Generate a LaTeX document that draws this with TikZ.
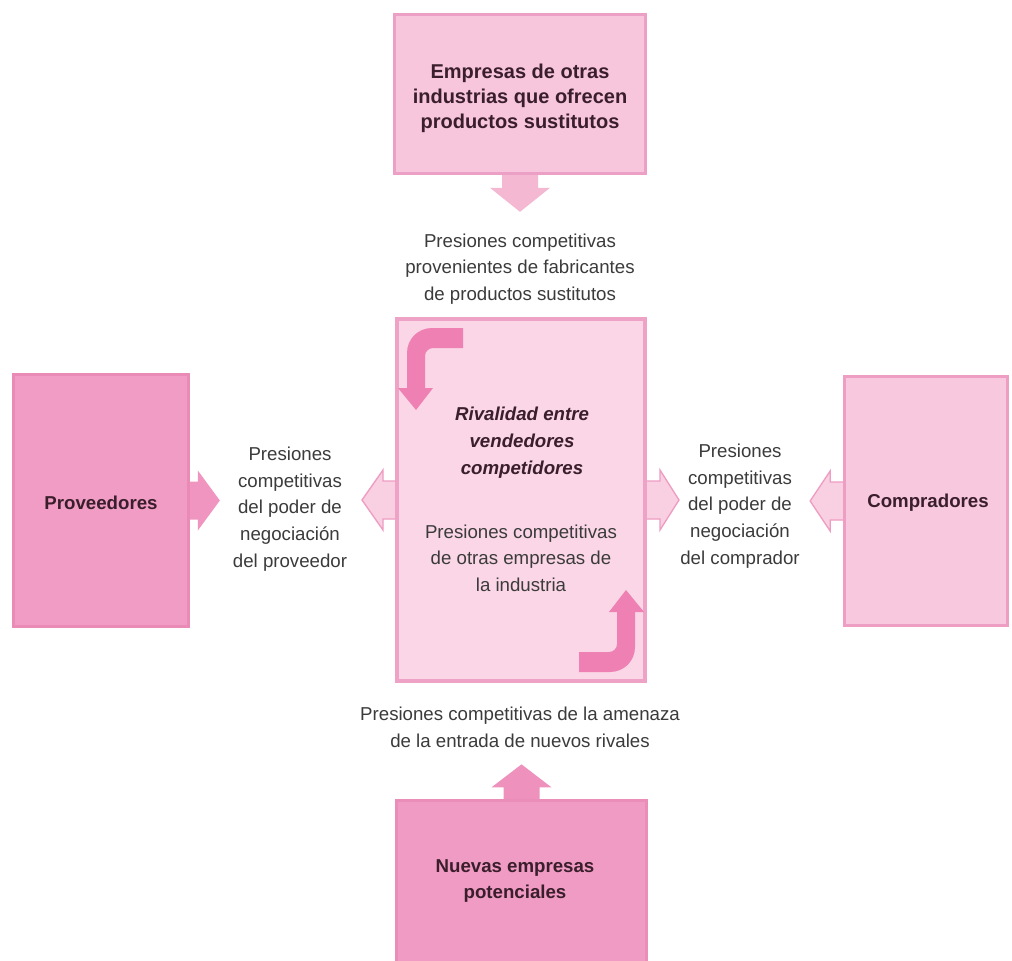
\documentclass[tikz,border=0pt]{standalone}
\usepackage{fontspec}
\setmainfont{Liberation Sans}
\usetikzlibrary{calc}
\definecolor{topfill}{HTML}{F7C6DC}
\definecolor{topdraw}{HTML}{EDA0C5}
\definecolor{midfill}{HTML}{FAD6E6}
\definecolor{middraw}{HTML}{EEA2C6}
\definecolor{provfill}{HTML}{F09CC4}
\definecolor{provdraw}{HTML}{E98AB7}
\definecolor{compfill}{HTML}{F8C8DE}
\definecolor{compdraw}{HTML}{EE9EC3}
\definecolor{botfill}{HTML}{F09BC3}
\definecolor{botdraw}{HTML}{EA8DB9}
\definecolor{curvecol}{HTML}{EE80B3}
\definecolor{toparrow}{HTML}{F5B8D3}
\definecolor{botarrow}{HTML}{EE92BD}
\definecolor{provarrow}{HTML}{EF95C0}
\definecolor{lightarrow}{HTML}{F8D0E2}
\definecolor{lightarrowdraw}{HTML}{EE9CC2}
\definecolor{regtext}{HTML}{3B3B3B}
\definecolor{boldtext}{HTML}{3A1E2C}
\pgfdeclarelayer{bg}
\pgfsetlayers{bg,main}
\tikzset{
  box/.style={rectangle, line width=2.25pt, inner sep=0pt},
  lbl/.style={align=center, text=regtext, font=\fontsize{14}{20}\selectfont, inner sep=0pt},
  boldlbl/.style={align=center, text=boldtext, font=\fontsize{14}{20}\selectfont\bfseries, inner sep=0pt},
  blockarrow/.style={line width=1pt, line join=miter},
  pics/curvedarrow/.style={code={
    \fill[curvecol] (-58,-172) -- (-89,-172)
      .. controls (-103,-172) and (-114,-161) .. (-114,-147)
      -- (-114,-112) -- (-123,-112) -- (-105,-90) -- (-88,-112) -- (-96,-112)
      -- (-96,-144) .. controls (-96,-148.4) and (-92.4,-152) .. (-88,-152)
      -- (-58,-152) -- cycle;
  }}
}
\begin{document}
\begin{tikzpicture}[x=0.75pt,y=-0.75pt]
\clip (0,0) rectangle (1012,960);
\begin{pgfonlayer}{bg}
\fill[white] (0,0) rectangle (1012,960);
\end{pgfonlayer}

% boxes
\node[box, fill=topfill, draw=topdraw, minimum width=188pt, minimum height=119pt]
      (top) at (520,94) {};
\node[box, fill=midfill, draw=middraw, line width=3pt, minimum width=186pt, minimum height=271.5pt]
      (mid) at (521,500) {};
\node[box, fill=provfill, draw=provdraw, minimum width=131pt, minimum height=189pt]
      (prov) at (101,500.5) {};
\node[box, fill=compfill, draw=compdraw, minimum width=122pt, minimum height=187pt]
      (comp) at (926,501) {};
\node[box, fill=botfill, draw=botdraw, minimum width=188pt, minimum height=130pt]
      (bot) at (521.5,887.5) {};

% block arrows (behind the boxes)
\begin{pgfonlayer}{bg}
\fill[toparrow, shift={(top.south)}]
  (-18,-3) -- (-18,13) -- (-30,13) -- (0,37) -- (30,13) -- (18,13) -- (18,-3) -- cycle;
\fill[botarrow, shift={(bot.north)}]
  (-18,3) -- (-18,-12) -- (-30,-12) -- (0,-35) -- (30,-12) -- (18,-12) -- (18,3) -- cycle;
\fill[provarrow, shift={(prov.east)}]
  (-3,-19) -- (8,-19) -- (8,-30) -- (30,0) -- (8,30) -- (8,19) -- (-3,19) -- cycle;
\filldraw[blockarrow, fill=lightarrow, draw=lightarrowdraw, shift={(mid.west)}]
  (3,-19) -- (-12,-19) -- (-12,-30) -- (-33,0) -- (-12,30) -- (-12,19) -- (3,19) -- cycle;
\filldraw[blockarrow, fill=lightarrow, draw=lightarrowdraw, shift={(mid.east)}]
  (-3,-19) -- (13,-19) -- (13,-30) -- (32,0) -- (13,30) -- (13,19) -- (-3,19) -- cycle;
\filldraw[blockarrow, fill=lightarrow, draw=lightarrowdraw, shift={(comp.west)}]
  (3,-19) -- (-13,-19) -- (-13,-30) -- (-33,0) -- (-13,30) -- (-13,19) -- (3,19) -- cycle;
\end{pgfonlayer}

% curved rivalry arrows
\pic at (mid.center) {curvedarrow};
\pic[rotate=180] at (mid.center) {curvedarrow};

% texts
\node[boldlbl, font=\fontsize{15}{18.75}\selectfont\bfseries] (toptext) at (520,98.5)
  {Empresas de otras\\industrias que ofrecen\\productos sustitutos};
\node[boldlbl] (provtext) at (101,502.5) {Proveedores};
\node[boldlbl] (comptext) at (928,503) {Compradores};
\node[lbl] (tlab) at (520,269) {Presiones competitivas\\provenientes de fabricantes\\de productos sustitutos};
\node[lbl] (llab) at (290,509) {Presiones\\competitivas\\del poder de\\negociación\\del proveedor};
\node[lbl] (rlab) at (740,506) {Presiones\\competitivas\\del poder de\\negociación\\del comprador};
\node[boldlbl, font=\fontsize{14}{20}\selectfont\bfseries\itshape] (rtitle) at (522,442.5) {Rivalidad entre\\vendedores\\competidores};
\node[lbl] (rsub) at (521,558) {Presiones competitivas\\de otras empresas de\\la industria};
\node[lbl] (blab) at (520,727) {Presiones competitivas de la amenaza\\de la entrada de nuevos rivales};
\node[boldlbl] (btext) at (515,881) {Nuevas empresas\\potenciales};
\end{tikzpicture}
\end{document}
